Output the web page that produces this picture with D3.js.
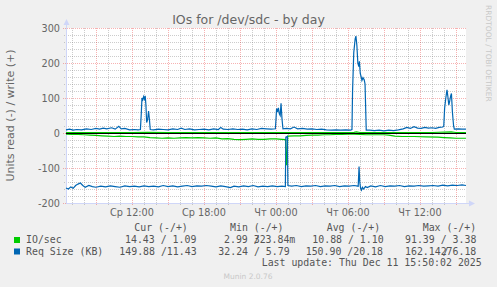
<!DOCTYPE html>
<html>
<head>
<meta charset="utf-8">
<script src="https://cdn.jsdelivr.net/npm/d3@7"></script>
<style>
  body { margin: 0; background: #f0f0f0; }
  svg { display: block; }
</style>
</head>
<body>
<div id="chart"></div>
<script>
// hours counted from Wed 00:00; graph ends Thu 15:50
const timeStart = 6.5
const timeEnd = 39.833

const xTicks = [12, 18, 24, 30, 36]
const xTickLabels = ["Ср 12:00", "Ср 18:00", "Чт 00:00", "Чт 06:00", "Чт 12:00"]
const yTicks = [300, 200, 100, 0, -100, -200]

const seriesNames = ["IO/sec", "Req Size (KB)"]
const seriesColors = ["#00cc00", "#0066b3"]

// [hour, value]
const ioWrite = [[6.5, 1], [9, 1], [12, 1.5], [13.3, 2], [15, 1], [18, 1], [21, 1.5], [24, 1], [27, 1], [30.5, 2], [30.7, 3], [31, 1.5], [34, 1], [37, 1.5], [38.6, 3], [39, 1.5], [39.83, 1.1]]

const ioRead = [[6.5, -3], [7.0, -4], [7.5, -4], [8.0, -5], [8.5, -6], [9.0, -7], [9.5, -8], [10.0, -9], [10.5, -10],
  [11.0, -9], [11.5, -10], [12.0, -10], [12.5, -11], [13.0, -11], [13.5, -13], [14.0, -14], [14.5, -15], [15.0, -14],
  [15.5, -15], [16.0, -14], [16.5, -13], [17.0, -14], [17.5, -13], [18.0, -14], [18.5, -15], [19.0, -14], [19.5, -17],
  [20.0, -16], [20.5, -18], [21.0, -19], [21.5, -18], [22.0, -17], [22.5, -18], [23.0, -18], [23.5, -17], [24.0, -17],
  [24.5, -18], [24.8, -19], [24.87, -92], [24.93, -60], [24.98, -9], [25.5, -8], [26.0, -8], [26.5, -7], [27.0, -6],
  [27.5, -6], [28.0, -5], [28.5, -5], [29.0, -4], [29.5, -4], [30.0, -3], [30.5, -3], [31.0, -4], [31.5, -5], [32.0, -5],
  [32.5, -5], [33.0, -5], [33.4, -6], [33.9, -9], [34.5, -10], [35.5, -10], [36.5, -11], [37.5, -12], [38.0, -13],
  [38.5, -14], [39.0, -15], [39.83, -15]]

const reqWrite = [[6.5, 9], [6.8, 11], [7.1, 8], [7.4, 10], [7.8, 9], [8.2, 12], [8.6, 10], [9.0, 13], [9.3, 11], [9.6, 14],
  [9.9, 12], [10.3, 15], [10.6, 11], [10.9, 19], [11.1, 12], [11.4, 13], [11.8, 9], [12.2, 10], [12.5, 9], [12.7, 10],
  [12.78, 60], [12.83, 100], [12.9, 95], [12.97, 104], [13.03, 97], [13.1, 106], [13.16, 80], [13.22, 30], [13.3, 38],
  [13.38, 63], [13.45, 40], [13.52, 10], [13.8, 9], [14.2, 11], [14.6, 10], [15.0, 9], [15.4, 12], [15.8, 10], [16.1, 14],
  [16.4, 10], [16.8, 12], [17.2, 9], [17.6, 10], [18.0, 11], [18.4, 9], [18.8, 12], [19.2, 10], [19.4, 16], [19.6, 11],
  [20.0, 10], [20.4, 12], [20.8, 10], [21.2, 11], [21.6, 9], [22.0, 12], [22.4, 10], [22.8, 13], [23.2, 12], [23.6, 11],
  [23.95, 12], [24.0, 40], [24.05, 70], [24.12, 60], [24.2, 72], [24.28, 55], [24.35, 50], [24.42, 85], [24.5, 40],
  [24.58, 12], [24.9, 13], [25.2, 12], [25.5, 17], [25.8, 12], [26.2, 13], [26.6, 11], [27.0, 12], [27.4, 10], [27.8, 11],
  [28.2, 9], [28.6, 8], [29.0, 9], [29.4, 8], [29.8, 9], [30.2, 8], [30.33, 10], [30.38, 120], [30.48, 230], [30.6, 270],
  [30.66, 277], [30.74, 250], [30.82, 200], [30.9, 190], [30.95, 205], [31.02, 170], [31.1, 160], [31.16, 150],
  [31.25, 158], [31.35, 152], [31.42, 140], [31.48, 60], [31.52, 8], [31.8, 8], [32.2, 7], [32.6, 8], [33.0, 6],
  [33.4, 8], [33.8, 7], [34.2, 9], [34.6, 12], [34.9, 16], [35.2, 13], [35.5, 18], [35.8, 14], [36.1, 13], [36.4, 16],
  [36.7, 14], [37.0, 15], [37.3, 13], [37.6, 16], [37.9, 17], [37.98, 20], [38.05, 70], [38.15, 100], [38.25, 123],
  [38.32, 105], [38.4, 80], [38.47, 90], [38.55, 105], [38.62, 113], [38.7, 60], [38.8, 20], [38.86, 11], [39.2, 12],
  [39.5, 11], [39.83, 11]]

const reqRead = [[6.5, -157], [6.7, -160], [6.9, -154], [7.1, -158], [7.3, -150], [7.5, -146], [7.7, -143], [7.9, -150],
  [8.1, -155], [8.4, -150], [8.7, -153], [9.0, -155], [9.4, -152], [9.8, -154], [10.2, -151], [10.6, -153], [11.0, -155],
  [11.4, -151], [11.8, -153], [12.2, -152], [12.6, -154], [13.0, -151], [13.4, -153], [13.8, -152], [14.2, -154],
  [14.6, -150], [15.0, -153], [15.4, -151], [15.8, -154], [16.2, -152], [16.6, -150], [17.0, -153], [17.4, -151],
  [17.8, -152], [18.2, -150], [18.6, -152], [19.0, -154], [19.4, -151], [19.8, -153], [20.2, -156], [20.5, -152],
  [20.9, -154], [21.3, -151], [21.7, -153], [22.1, -150], [22.5, -154], [22.9, -152], [23.3, -153], [23.7, -151],
  [24.1, -153], [24.5, -152], [24.78, -153], [24.82, -12], [24.95, -10], [24.99, -150], [25.3, -152], [25.7, -150],
  [26.1, -153], [26.5, -151], [26.9, -152], [27.3, -150], [27.7, -153], [28.1, -151], [28.5, -152], [28.9, -150],
  [29.3, -153], [29.7, -151], [30.1, -152], [30.5, -150], [30.85, -152], [30.92, -96], [30.98, -140], [31.05, -158],
  [31.12, -163], [31.2, -155], [31.3, -160], [31.45, -153], [31.6, -156], [31.9, -151], [32.3, -154], [32.7, -150],
  [33.1, -153], [33.5, -151], [33.9, -152], [34.3, -150], [34.7, -153], [35.1, -151], [35.5, -152], [35.9, -150],
  [36.3, -152], [36.7, -151], [37.1, -150], [37.5, -152], [37.9, -149], [38.3, -151], [38.7, -149], [39.1, -150],
  [39.5, -148], [39.83, -150]]

const legendHeader = ["Cur (-/+)", "Min (-/+)", "Avg (-/+)", "Max (-/+)"]
// each cell: pieces of text with a dx shift before each piece (munin overprints some "/" signs)
const legendRows = [
  [[["14.43 / 1.09", 0]], [["2.99 /", 0], ["323.84m", -5.96]], [["10.88 / 1.10", 0]], [["91.39 / 3.38", 0]]],
  [[["149.88 /11.43", 0]], [["32.24 / 5.79", 0]], [["150.90 /20.18", 0]], [["162.14", 0], ["/", 2], ["276.18", -8]]]
]
const lastUpdate = "Last update: Thu Dec 11 15:50:02 2025"

const W = 497, H = 287
const svg = d3.select("#chart").append("svg")
  .attr("width", W).attr("height", H)
  .style("font-family", "DejaVu Sans")

svg.append("rect").attr("width", W).attr("height", H).attr("fill", "#f0f0f0")

const pLeft = 66, pRight = 466, pTop = 28, pBottom = 203

const x = d3.scaleLinear().domain([timeStart, timeEnd]).range([pLeft, pRight])
const y = d3.scaleLinear().domain([-200, 300]).range([pBottom, pTop])

svg.append("rect")
  .attr("x", pLeft).attr("y", pTop)
  .attr("width", pRight - pLeft).attr("height", pBottom - pTop)
  .attr("fill", "#ffffff")

// grid
const grid = svg.append("g").attr("shape-rendering", "crispEdges")
const minorX = d3.range(7, 40).filter(h => h % 3 != 0)
const majorX = d3.range(9, 40, 3)
const minorY = d3.range(-200, 301, 20).filter(v => v % 100 != 0)
const minorCol = "rgba(128,128,128,0.4)"
const majorCol = "rgba(230,0,0,0.3)"

grid.selectAll(".mx").data(minorX).enter().append("line")
  .attr("x1", d => Math.round(x(d)) + 0.5).attr("x2", d => Math.round(x(d)) + 0.5)
  .attr("y1", pTop).attr("y2", pBottom + 2)
  .attr("stroke", minorCol).attr("stroke-dasharray", "1,1")
grid.selectAll(".my").data(minorY).enter().append("line")
  .attr("y1", d => Math.round(y(d)) + 0.5).attr("y2", d => Math.round(y(d)) + 0.5)
  .attr("x1", pLeft - 2).attr("x2", pRight)
  .attr("stroke", minorCol).attr("stroke-dasharray", "1,1")
grid.selectAll(".Mx").data(majorX).enter().append("line")
  .attr("x1", d => Math.round(x(d)) + 0.5).attr("x2", d => Math.round(x(d)) + 0.5)
  .attr("y1", pTop).attr("y2", pBottom + 3)
  .attr("stroke", majorCol).attr("stroke-dasharray", "1,1")
grid.selectAll(".My").data(yTicks).enter().append("line")
  .attr("y1", d => Math.round(y(d)) + 0.5).attr("y2", d => Math.round(y(d)) + 0.5)
  .attr("x1", pLeft - 3).attr("x2", pRight)
  .attr("stroke", majorCol).attr("stroke-dasharray", "1,1")

// axes (rrdtool style)
const axisColor = "#cfd6f8"
svg.append("line").attr("x1", pLeft + 0.5).attr("x2", pLeft + 0.5).attr("y1", pBottom).attr("y2", pTop - 6)
  .attr("stroke", axisColor)
svg.append("path").attr("d", `M${pLeft - 2.5},${pTop - 3} L${pLeft + 3.5},${pTop - 3} L${pLeft + 0.5},${pTop - 9} Z`)
  .attr("fill", axisColor)
svg.append("line").attr("x1", pLeft).attr("x2", pRight + 6).attr("y1", pBottom + 0.5).attr("y2", pBottom + 0.5)
  .attr("stroke", axisColor)
svg.append("path").attr("d", `M${pRight + 3},${pBottom - 2.5} L${pRight + 3},${pBottom + 3.5} L${pRight + 9},${pBottom + 0.5} Z`)
  .attr("fill", axisColor)

// tick labels
svg.append("g").selectAll("text").data(yTicks).enter().append("text")
  .attr("x", 60).attr("y", d => y(d) + 3.5)
  .attr("text-anchor", "end")
  .style("font-size", "9.7px").style("fill", "#666")
  .text(d => d)

svg.append("g").selectAll("text").data(xTicks).enter().append("text")
  .attr("x", d => x(d)).attr("y", 216)
  .attr("text-anchor", "middle")
  .style("font-size", "9.7px").style("fill", "#666")
  .text((d, i) => xTickLabels[i])

// title, unit label, watermarks
svg.append("text").attr("x", 248.5).attr("y", 24).attr("text-anchor", "middle")
  .style("font-size", "12.5px").style("fill", "#666")
  .text("IOs for /dev/sdc - by day")

svg.append("text").attr("transform", `translate(14,${(pTop + pBottom) / 2}) rotate(-90)`)
  .attr("text-anchor", "middle")
  .style("font-size", "11px").style("fill", "#666")
  .text("Units read (-) / write (+)")

svg.append("text").attr("transform", "translate(485.5,5) rotate(90)")
  .style("font-size", "7.5px").style("fill", "#c8c8c8")
  .text("RRDTOOL / TOBI OETIKER")

svg.append("text").attr("x", 248).attr("y", 278.5).attr("text-anchor", "middle")
  .style("font-size", "7.5px").style("fill", "#c8c8c8")
  .text("Munin 2.0.76")

// series
const line = d3.line().x(d => x(d[0])).y(d => y(d[1]))
const lines = svg.append("g").attr("fill", "none")
lines.append("path").attr("d", line(ioWrite)).attr("stroke", seriesColors[0]).attr("stroke-width", 1.2)
lines.append("path").attr("d", line(reqWrite)).attr("stroke", seriesColors[1]).attr("stroke-width", 1.2)

svg.append("line").attr("x1", pLeft).attr("x2", pRight)
  .attr("y1", Math.round(y(0)) + 0.5).attr("y2", Math.round(y(0)) + 0.5)
  .attr("stroke", "#000").attr("shape-rendering", "crispEdges")

lines.append("path").attr("d", line(ioRead)).attr("stroke", seriesColors[0]).attr("stroke-width", 1.2)
lines.append("path").attr("d", line(reqRead)).attr("stroke", seriesColors[1]).attr("stroke-width", 1.2)

// legend
const lg = svg.append("g").style("font-family", "DejaVu Sans Mono").style("font-size", "9.9px").style("fill", "#555")
const headerX = [134.3, 230, 326.7, 422.7]
lg.selectAll(".hd").data(legendHeader).enter().append("text")
  .attr("x", (d, i) => headerX[i]).attr("y", 231).text(d => d)

const rowY = [243, 254.5]
const cellX = [[125, 224, 312.3, 405], [119.3, 218.3, 305.7, 405]]
seriesNames.forEach((name, r) => {
  lg.append("rect").attr("x", 14).attr("y", rowY[r] - 6).attr("width", 6).attr("height", 6)
    .attr("fill", seriesColors[r])
  lg.append("text").attr("x", 26).attr("y", rowY[r]).text(name)
  legendRows[r].forEach((cell, c) => {
    const t = lg.append("text").attr("x", cellX[r][c]).attr("y", rowY[r])
    cell.forEach(p => {
      t.append("tspan").attr("dx", p[1]).text(p[0])
    })
  })
})
lg.append("text").attr("x", 261.7).attr("y", 266).text(lastUpdate)
</script>
</body>
</html>
